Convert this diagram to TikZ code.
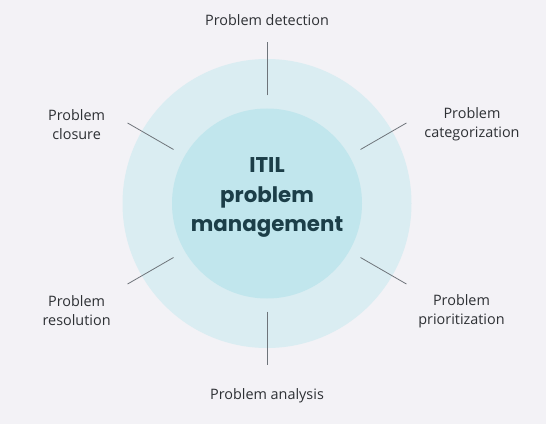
\documentclass[tikz,border=0pt]{standalone}
\usepackage{fontspec}
\usepackage{xcolor}
\setmainfont{Open Sans}
\newfontfamily\titlefont{Poppins}
\usetikzlibrary{shapes.geometric}

\definecolor{pagebg}{RGB}{243,242,246}
\definecolor{ringout}{RGB}{218,237,242}
\definecolor{ringin}{RGB}{193,230,237}
\definecolor{spokegray}{RGB}{110,116,122}
\definecolor{labelgray}{RGB}{45,48,52}
\definecolor{titleteal}{RGB}{28,62,72}

\tikzset{
  spoke/.style={draw=spokegray, line width=0.6pt},
  steplabel/.style={inner sep=0pt, align=center, text=labelgray, font=\fontsize{10.8}{14.3}\selectfont},
}

\begin{document}
\begin{tikzpicture}[x=0.75pt,y=0.75pt,yscale=-1,xscale=1]
%set diagram size 546x424
\fill[pagebg] (0,0) rectangle (546,424);
\useasboundingbox (0,0) rectangle (546,424);

%Shape: Circle [outer ring]
\node [circle, fill=ringout, minimum size=289*0.75pt, inner sep=0pt] (outer) at (267,203.5) {};
%Shape: Circle [inner disc]
\node [circle, fill=ringin, minimum size=190*0.75pt, inner sep=0pt] (inner) at (267,203.5) {};

% Text Node
\node [align=center, text=titleteal, font=\titlefont\bfseries\fontsize{16}{21.8}\selectfont] (title) at (267,197.5) {ITIL\\problem\\management};

%Spoke end points
\coordinate (detA) at (267,95.5);    \coordinate (detB) at (267,42.5);
\coordinate (catA) at (360.5,149.5); \coordinate (catB) at (406.4,123);
\coordinate (priA) at (360.5,257.5); \coordinate (priB) at (406.4,284);
\coordinate (anaA) at (267,311.5);   \coordinate (anaB) at (267,364.5);
\coordinate (resA) at (173.5,257.5); \coordinate (resB) at (127.6,284);
\coordinate (cloA) at (173.5,149.5); \coordinate (cloB) at (127.6,123);

%Straight Lines
\draw [spoke] (detA) -- (detB);
\draw [spoke] (catA) -- (catB);
\draw [spoke] (priA) -- (priB);
\draw [spoke] (anaA) -- (anaB);
\draw [spoke] (resA) -- (resB);
\draw [spoke] (cloA) -- (cloB);

% Text Node
\node [steplabel] (detection) at (267,20) {Problem detection};
% Text Node
\node [steplabel] (categorization) at (472,124.5) {Problem\\categorization};
% Text Node
\node [steplabel] (prioritization) at (461.5,311) {Problem\\prioritization};
% Text Node
\node [steplabel] (analysis) at (267,396) {Problem analysis};
% Text Node
\node [steplabel] (resolution) at (76.6,311) {Problem\\resolution};
% Text Node
\node [steplabel] (closure) at (76.6,124.5) {Problem\\closure};

\end{tikzpicture}
\end{document}
